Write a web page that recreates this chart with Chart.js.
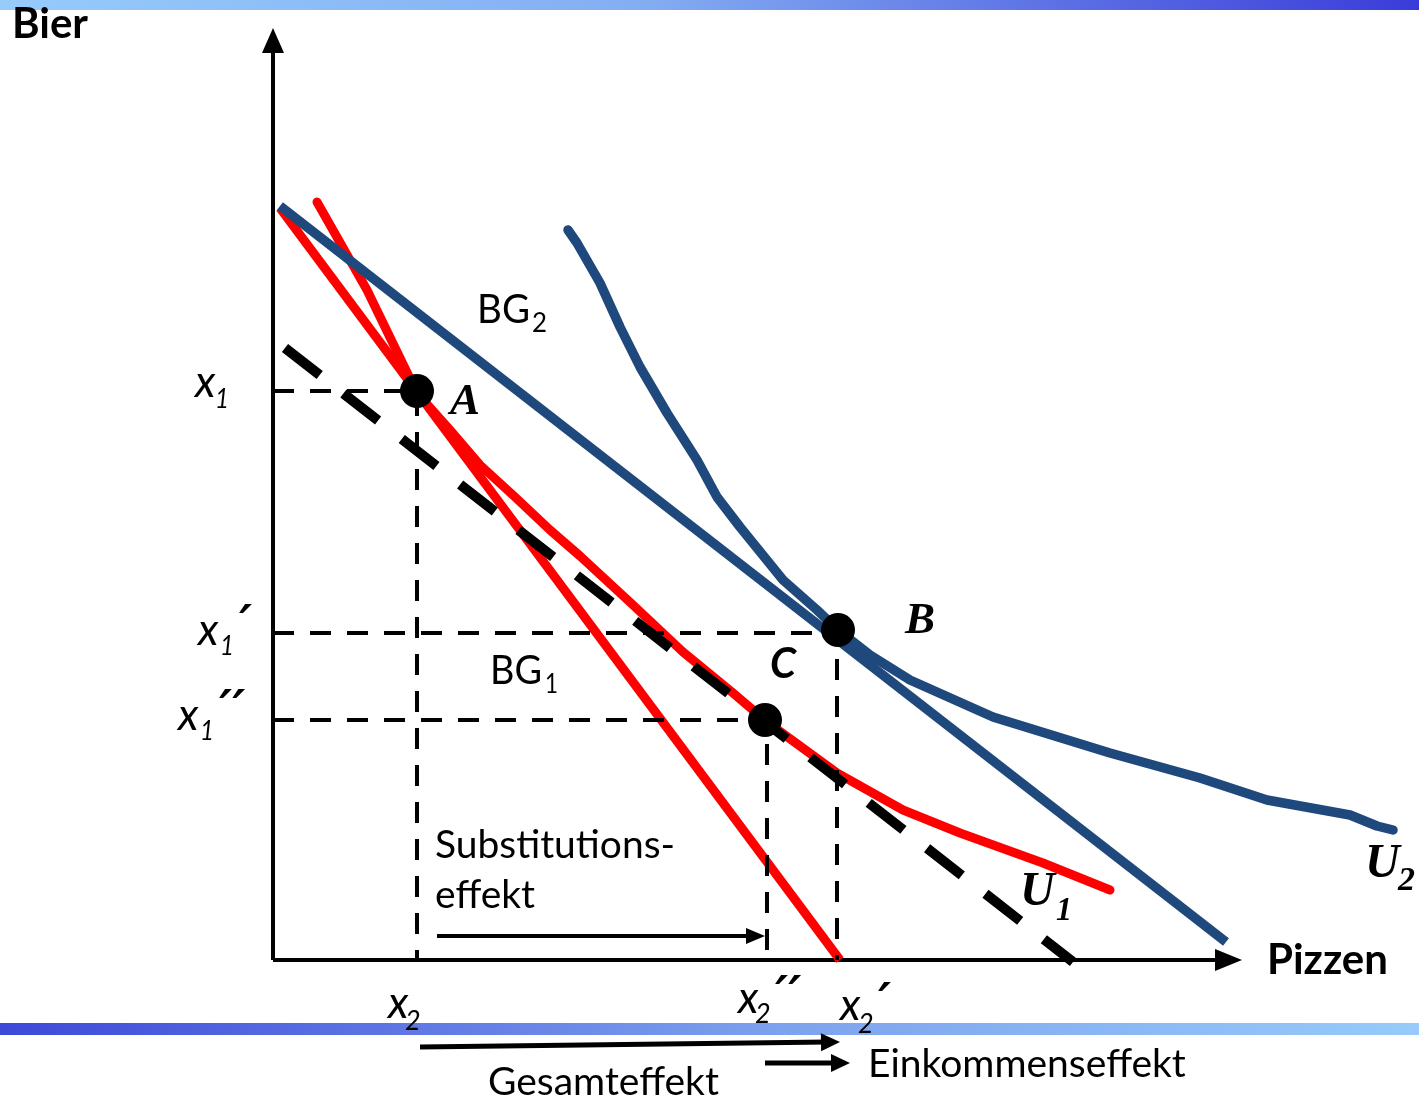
<!DOCTYPE html>
<html>
<head>
<meta charset="utf-8">
<script src="https://cdn.jsdelivr.net/npm/chart.js@4/dist/chart.umd.min.js"></script>
<style>
body { margin: 0; background: #fff; }
</style>
</head>
<body>
<canvas id="myChart" width="1419" height="1100"></canvas>
<script>
// quantities: Pizzen on x, Bier on y (origin where the axes cross)
var bg1 = [[0.07, 7.52], [5.67, 0]];
var bg2 = [[0.07, 7.54], [9.53, 0.18]];
var bgComp = [[0.12, 6.12], [8.00, -0.02]];

var u1 = [[0.44, 7.58], [0.94, 6.70], [1.44, 5.67], [1.77, 5.30], [2.07, 4.95],
	[2.42, 4.63], [2.77, 4.30], [3.07, 4.04], [3.60, 3.55], [4.10, 3.08],
	[4.60, 2.67], [4.94, 2.38], [5.64, 1.87], [6.30, 1.50], [6.87, 1.27],
	[7.70, 0.97], [8.37, 0.70]];

var u2 = [[2.95, 7.30], [3.04, 7.17], [3.27, 6.77], [3.47, 6.33], [3.67, 5.93],
	[3.94, 5.47], [4.24, 5.00], [4.44, 4.63], [4.67, 4.33], [5.10, 3.80],
	[5.44, 3.50], [5.65, 3.30], [5.97, 3.05], [6.37, 2.80], [7.20, 2.43],
	[8.37, 2.07], [9.27, 1.82], [9.94, 1.60], [10.77, 1.45], [11.04, 1.34],
	[11.20, 1.30]];

// optimum points A, B, C
var optima = [[1.44, 5.69], [5.65, 3.30], [4.92, 2.40]];

// dashed guides to the axes
var guideA = [[0, 5.69], [1.44, 5.69], [1.44, 0]];
var guideB = [[0, 3.27], [5.65, 3.27], [5.64, 3.27], [5.64, 0]];
var guideC = [[0, 2.40], [4.92, 2.40], [4.94, 2.40], [4.94, 0]];

var yAxisLine = [[0, 0], [0, 9.20]];
var xAxisLine = [[0, 0], [9.60, 0]];

// effect arrows: from, to
var arrows = [
	{ from: [1.64, 0.24], to: [4.92, 0.24], w: 4, len: 19, half: 8 },
	{ from: [1.47, -0.87], to: [5.67, -0.82], w: 5, len: 19, half: 9 },
	{ from: [4.92, -1.03], to: [5.77, -1.03], w: 5, len: 19, half: 9 },
	{ from: [0, 9.0], to: [0, 9.32], w: 0, len: 25, half: 11 },
	{ from: [9.5, 0], to: [9.69, 0], w: 0, len: 27, half: 11 }
];

var primeFont = "italic bold 50px 'DejaVu Sans'";
var texts = [
	{ t: "Bier", x: -2.61, y: 9.22, f: "bold 42px Lato", w: 78 },
	{ t: "Pizzen", x: 9.94, y: -0.14, f: "bold 42px Lato", w: 123 },
	{ t: "BG", x: 2.04, y: 6.37, f: "40px Lato", w: 53 },
	{ t: "2", x: 2.59, y: 6.28, f: "26px Lato", w: 15 },
	{ t: "BG", x: 2.17, y: 2.76, f: "40px Lato", w: 52 },
	{ t: "1", x: 2.72, y: 2.67, f: "26px Lato", w: 13 },
	{ t: "A", x: 1.77, y: 5.46, f: "italic bold 45px 'Liberation Serif'", w: 32 },
	{ t: "B", x: 6.32, y: 3.27, f: "italic bold 45px 'Liberation Serif'", w: 30 },
	{ t: "C", x: 4.97, y: 2.82, f: "italic bold 42px Lato", w: 26 },
	{ t: "U", x: 7.47, y: 0.55, f: "italic bold 48px 'Liberation Serif'", w: 38 },
	{ t: "1", x: 7.83, y: 0.40, f: "italic bold 34px 'Liberation Serif'", w: 16 },
	{ t: "U", x: 10.92, y: 0.83, f: "italic bold 48px 'Liberation Serif'", w: 40 },
	{ t: "2", x: 11.25, y: 0.70, f: "italic bold 34px 'Liberation Serif'", w: 20 },
	{ t: "x", x: -0.78, y: 5.63, f: "italic 44px Lato", w: 24 },
	{ t: "1", x: -0.58, y: 5.52, f: "italic 27px Lato", w: 14 },
	{ t: "x", x: -0.75, y: 3.15, f: "italic 44px Lato", w: 24 },
	{ t: "1", x: -0.53, y: 3.05, f: "italic 27px Lato", w: 14 },
	{ t: "\u2032", x: -0.34, y: 3.20, f: primeFont, w: 16 },
	{ t: "x", x: -0.95, y: 2.30, f: "italic 44px Lato", w: 24 },
	{ t: "1", x: -0.73, y: 2.20, f: "italic 27px Lato", w: 14 },
	{ t: "\u2032\u2032", x: -0.54, y: 2.35, f: primeFont, w: 28 },
	{ t: "x", x: 1.15, y: -0.58, f: "italic 44px Lato", w: 24 },
	{ t: "2", x: 1.32, y: -0.70, f: "italic 27px Lato", w: 16 },
	{ t: "x", x: 4.65, y: -0.53, f: "italic 44px Lato", w: 24 },
	{ t: "2", x: 4.82, y: -0.63, f: "italic 27px Lato", w: 16 },
	{ t: "\u2032\u2032", x: 5.02, y: -0.51, f: primeFont, w: 28 },
	{ t: "x", x: 5.67, y: -0.60, f: "italic 44px Lato", w: 24 },
	{ t: "2", x: 5.85, y: -0.73, f: "italic 27px Lato", w: 16 },
	{ t: "\u2032", x: 6.05, y: -0.58, f: primeFont, w: 16 },
	{ t: "Substitutions-", x: 1.62, y: 1.02, f: "39px Lato", w: 240 },
	{ t: "effekt", x: 1.62, y: 0.52, f: "39px Lato", w: 100 },
	{ t: "Gesamteffekt", x: 2.15, y: -1.35, f: "39px Lato", w: 232 },
	{ t: "Einkommenseffekt", x: 5.95, y: -1.17, f: "39px Lato", w: 319 }
];

var blue = "#1F497D";
var red = "#FF0000";

function pts(arr) {
	return arr.map(function (p) {
		return { x: p[0], y: p[1] };
	});
}

function lineSet(arr, color, width, dash, order, cap) {
	return {
		data: pts(arr),
		showLine: true,
		borderColor: color,
		borderWidth: width,
		borderDash: dash || [],
		borderCapStyle: cap || "butt",
		borderJoinStyle: "round",
		pointRadius: 0,
		tension: 0,
		order: order
	};
}

var datasets = [
	{
		data: pts(optima),
		backgroundColor: "#000",
		borderWidth: 0,
		pointRadius: 17,
		showLine: false,
		order: 0
	},
	lineSet(guideA, "#000", 4, [21, 16], 1),
	lineSet(guideB, "#000", 4, [21, 16], 1),
	lineSet(guideC, "#000", 4, [21, 16], 1),
	lineSet(bgComp, "#000", 10, [44, 30], 2),
	lineSet(bg2, blue, 9.5, null, 3),
	lineSet(u2, blue, 9.5, null, 3, "round"),
	lineSet(bg1, red, 9, null, 4),
	lineSet(u1, red, 9, null, 4, "round"),
	lineSet(yAxisLine, "#000", 4, null, 5),
	lineSet(xAxisLine, "#000", 4, null, 5)
];
arrows.forEach(function (a) {
	if (a.w > 0) datasets.push(lineSet([a.from, [a.to[0] - 0.12, a.to[1]]], "#000", a.w, null, 5));
});

var extras = {
	id: "extras",
	beforeDatasetsDraw: function (chart) {
		var ctx = chart.ctx;
		var sx = chart.scales.x, sy = chart.scales.y;
		var x0 = sx.getPixelForValue(sx.min), x1 = sx.getPixelForValue(sx.max);
		var g = ctx.createLinearGradient(x0, 0, x1, 0);
		g.addColorStop(0, "#96CBFB");
		g.addColorStop(0.45, "#84AEF2");
		g.addColorStop(1, "#3A3CD9");
		ctx.save();
		ctx.fillStyle = g;
		var t0 = sy.getPixelForValue(9.60), t1 = sy.getPixelForValue(9.50);
		ctx.fillRect(x0, t0, x1 - x0, t1 - t0);
		var g2 = ctx.createLinearGradient(x0, 0, x1, 0);
		g2.addColorStop(0, "#3D49D9");
		g2.addColorStop(0.55, "#7DA2EE");
		g2.addColorStop(1, "#96CBFB");
		ctx.fillStyle = g2;
		var b0 = sy.getPixelForValue(-0.63), b1 = sy.getPixelForValue(-0.75);
		ctx.fillRect(x0, b0, x1 - x0, b1 - b0);
		ctx.restore();
	},
	afterDatasetsDraw: function (chart) {
		var ctx = chart.ctx;
		var sx = chart.scales.x, sy = chart.scales.y;
		ctx.save();
		ctx.fillStyle = "#000";
		arrows.forEach(function (a) {
			var fx = sx.getPixelForValue(a.from[0]), fy = sy.getPixelForValue(a.from[1]);
			var tx = sx.getPixelForValue(a.to[0]), ty = sy.getPixelForValue(a.to[1]);
			var ang = Math.atan2(ty - fy, tx - fx);
			var bx = tx - a.len * Math.cos(ang), by = ty - a.len * Math.sin(ang);
			ctx.beginPath();
			ctx.moveTo(tx, ty);
			ctx.lineTo(bx + a.half * Math.sin(ang), by - a.half * Math.cos(ang));
			ctx.lineTo(bx - a.half * Math.sin(ang), by + a.half * Math.cos(ang));
			ctx.closePath();
			ctx.fill();
		});
		ctx.textBaseline = "alphabetic";
		ctx.textAlign = "left";
		texts.forEach(function (l) {
			ctx.font = l.f;
			ctx.fillText(l.t, sx.getPixelForValue(l.x), sy.getPixelForValue(l.y), l.w);
		});
		ctx.restore();
	}
};

var myChart = new Chart(document.querySelector("#myChart").getContext("2d"), {
	type: "scatter",
	data: { datasets: datasets },
	options: {
		responsive: false,
		animation: false,
		layout: { autoPadding: false, padding: 0 },
		plugins: { legend: { display: false }, tooltip: { enabled: false } },
		scales: {
			x: { type: "linear", min: -2.73, max: 11.46, display: false },
			y: { type: "linear", min: -1.40, max: 9.60, display: false }
		}
	},
	plugins: [extras]
});
</script>
</body>
</html>
